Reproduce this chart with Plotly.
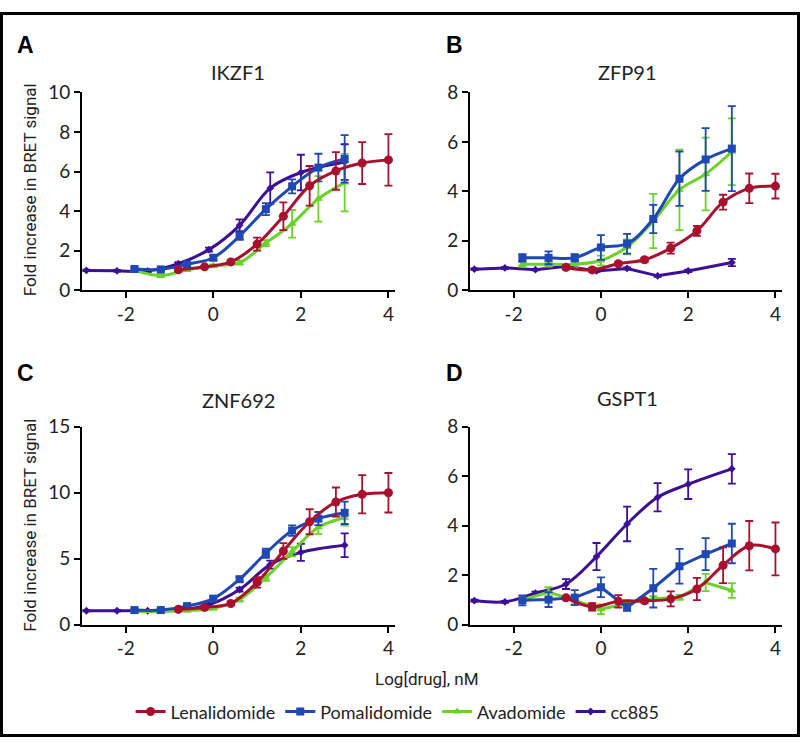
import plotly.graph_objects as go

# ---------------- data ----------------
drugs = ["Lenalidomide", "Pomalidomide", "Avadomide", "cc885"]
colors = {"Lenalidomide": "#A8102E", "Pomalidomide": "#1F48B4",
          "Avadomide": "#6AD22B", "cc885": "#3C1096"}
symbols = {"Lenalidomide": "circle", "Pomalidomide": "square",
           "Avadomide": "triangle-up", "cc885": "diamond"}
msize = {"Lenalidomide": 9, "Pomalidomide": 8, "Avadomide": 8, "cc885": 6}

x_len = [-0.8, -0.2, 0.4, 1.0, 1.6, 2.2, 2.8, 3.4, 4.0]
x_pom = [-1.8, -1.2, -0.6, 0.0, 0.6, 1.2, 1.8, 2.4, 3.0]
x_ava = [-1.8, -1.2, -0.6, 0.0, 0.6, 1.2, 1.8, 2.4, 3.0]
x_cc = [-2.9, -2.2, -1.5, -0.8, -0.1, 0.6, 1.3, 2.0, 3.0]

panel_titles = ["IKZF1", "ZFP91", "ZNF692", "GSPT1"]
panel_letters = ["A", "B", "C", "D"]
y_ranges = [[0, 10], [0, 8], [0, 15], [0, 8]]
y_ticks = [[0, 2, 4, 6, 8, 10], [0, 2, 4, 6, 8], [0, 5, 10, 15], [0, 2, 4, 6, 8]]
x_ticks = [-2, 0, 2, 4]
x_ticktext = ["-2", "0", "2", "4"]

# IKZF1
ikzf1_len = [1.03, 1.18, 1.43, 2.33, 3.74, 5.28, 6.03, 6.43, 6.59]
ikzf1_len_err = [0.05, 0.05, 0.08, 0.33, 0.7, 1.0, 0.95, 1.06, 1.3]
ikzf1_pom = [1.07, 1.05, 1.31, 1.64, 2.74, 4.1, 5.25, 6.2, 6.64]
ikzf1_pom_err = [0.08, 0.06, 0.1, 0.12, 0.2, 0.3, 0.35, 0.7, 1.2]
ikzf1_ava = [1.0, 0.74, 1.03, 1.23, 1.39, 2.38, 3.36, 4.62, 5.44]
ikzf1_ava_err = [0.05, 0.08, 0.06, 0.08, 0.1, 0.15, 0.7, 1.15, 1.45]
ikzf1_cc = [1.0, 0.98, 0.97, 1.34, 2.05, 3.28, 5.16, 5.95, 6.48]
ikzf1_cc_err = [0.04, 0.04, 0.05, 0.08, 0.1, 0.3, 0.8, 0.9, 0.9]

# ZFP91
zfp91_len = [0.92, 0.82, 1.07, 1.23, 1.7, 2.4, 3.56, 4.12, 4.21]
zfp91_len_err = [0.08, 0.08, 0.06, 0.08, 0.22, 0.2, 0.3, 0.6, 0.5]
zfp91_pom = [1.31, 1.31, 1.31, 1.73, 1.88, 2.88, 4.51, 5.29, 5.73]
zfp91_pom_err = [0.15, 0.26, 0.15, 0.5, 0.4, 0.57, 1.1, 1.27, 1.72]
zfp91_ava = [1.05, 1.05, 1.05, 1.2, 1.75, 2.8, 4.06, 4.7, 5.6]
zfp91_ava_err = [0.1, 0.1, 0.15, 0.2, 0.3, 1.1, 1.63, 1.47, 1.35]
zfp91_cc = [0.85, 0.9, 0.83, 0.97, 0.78, 0.88, 0.58, 0.78, 1.12]
zfp91_cc_err = [0.03, 0.03, 0.03, 0.04, 0.04, 0.04, 0.04, 0.05, 0.15]

# ZNF692
znf692_len = [1.16, 1.3, 1.6, 3.2, 5.58, 7.8, 9.3, 9.88, 10.0]
znf692_len_err = [0.08, 0.1, 0.12, 0.4, 0.6, 0.95, 1.1, 1.45, 1.5]
znf692_pom = [1.1, 1.1, 1.4, 1.97, 3.44, 5.41, 7.13, 8.04, 8.48]
znf692_pom_err = [0.08, 0.08, 0.1, 0.12, 0.2, 0.35, 0.4, 0.5, 0.85]
znf692_ava = [1.0, 1.0, 1.06, 1.23, 1.9, 3.56, 5.53, 7.38, 8.1]
znf692_ava_err = [0.06, 0.06, 0.08, 0.1, 0.15, 0.25, 0.35, 0.5, 0.6]
znf692_cc = [1.05, 1.05, 1.05, 1.1, 1.5, 2.66, 4.55, 5.48, 6.02]
znf692_cc_err = [0.04, 0.04, 0.04, 0.06, 0.1, 0.15, 0.3, 0.65, 0.9]

# GSPT1
gspt1_len = [1.08, 0.72, 0.94, 0.96, 1.04, 1.44, 2.4, 3.19, 3.06]
gspt1_len_err = [0.08, 0.15, 0.25, 0.08, 0.3, 0.45, 0.72, 1.0, 1.07]
gspt1_pom = [0.98, 1.01, 1.09, 1.51, 0.7, 1.47, 2.36, 2.85, 3.28]
gspt1_pom_err = [0.2, 0.3, 0.3, 0.4, 0.15, 0.78, 0.7, 0.65, 0.8]
gspt1_ava = [1.0, 1.31, 0.98, 0.62, 0.85, 1.05, 1.1, 1.7, 1.38]
gspt1_ava_err = [0.1, 0.2, 0.15, 0.2, 0.15, 0.1, 0.1, 0.35, 0.3]
gspt1_cc = [0.97, 0.92, 1.27, 1.64, 2.75, 4.07, 5.15, 5.68, 6.3]
gspt1_cc_err = [0.04, 0.04, 0.06, 0.2, 0.55, 0.7, 0.57, 0.6, 0.6]

panels = [
    {"Lenalidomide": (x_len, ikzf1_len, ikzf1_len_err, "spline"),
     "Pomalidomide": (x_pom, ikzf1_pom, ikzf1_pom_err, "spline"),
     "Avadomide": (x_ava, ikzf1_ava, ikzf1_ava_err, "spline"),
     "cc885": (x_cc, ikzf1_cc, ikzf1_cc_err, "spline")},
    {"Lenalidomide": (x_len, zfp91_len, zfp91_len_err, "spline"),
     "Pomalidomide": (x_pom, zfp91_pom, zfp91_pom_err, "spline"),
     "Avadomide": (x_ava, zfp91_ava, zfp91_ava_err, "spline"),
     "cc885": (x_cc, zfp91_cc, zfp91_cc_err, "linear")},
    {"Lenalidomide": (x_len, znf692_len, znf692_len_err, "spline"),
     "Pomalidomide": (x_pom, znf692_pom, znf692_pom_err, "spline"),
     "Avadomide": (x_ava, znf692_ava, znf692_ava_err, "spline"),
     "cc885": (x_cc, znf692_cc, znf692_cc_err, "spline")},
    {"Lenalidomide": (x_len, gspt1_len, gspt1_len_err, "spline"),
     "Pomalidomide": (x_pom, gspt1_pom, gspt1_pom_err, "linear"),
     "Avadomide": (x_ava, gspt1_ava, gspt1_ava_err, "linear"),
     "cc885": (x_cc, gspt1_cc, gspt1_cc_err, "spline")},
]

# ---------------- layout geometry ----------------
W, H = 800, 748
x_doms = [(82, 395), (470, 782), (82, 395), (470, 782)]
y_doms = [(83, 287), (83, 287), (428, 632), (428, 632)]

fig = go.Figure()
draw_order = ["cc885", "Avadomide", "Pomalidomide", "Lenalidomide"]
legend_rank = {"Lenalidomide": 1, "Pomalidomide": 2, "Avadomide": 3, "cc885": 4}

for i, pdata in enumerate(panels):
    ax = "" if i == 0 else str(i + 1)
    for d in draw_order:
        xs, ys, es, shape = pdata[d]
        fig.add_trace(go.Scatter(
            x=xs, y=ys, name=d, mode="lines+markers",
            xaxis="x" + ax, yaxis="y" + ax,
            line=dict(color=colors[d], width=3, shape=shape, smoothing=1.0),
            marker=dict(color=colors[d], symbol=symbols[d], size=msize[d]),
            error_y=dict(type="data", array=es, color=colors[d], thickness=1.8, width=4),
            showlegend=(i == 0), legendrank=legend_rank[d], cliponaxis=False,
        ))

tickfont = dict(family="Lato, Open Sans, sans-serif", size=19, color="#222")
layout = dict(
    width=W, height=H, margin=dict(l=0, r=0, t=0, b=0),
    plot_bgcolor="white", paper_bgcolor="white", showlegend=True,
    legend=dict(orientation="h", x=0.497, xanchor="center", y=1 - 722 / H, yanchor="middle",
                font=dict(family="Lato, Open Sans, sans-serif", size=18, color="#222"),
                itemwidth=30, tracegroupgap=0, bgcolor="rgba(0,0,0,0)"),
)
for i in range(4):
    ax = "" if i == 0 else str(i + 1)
    x0, x1 = x_doms[i]
    y0, y1 = y_doms[i]
    layout["xaxis" + ax] = dict(
        domain=[x0 / W, x1 / W], range=[-3, 4.15], tickvals=x_ticks, ticktext=x_ticktext,
        showline=True, linecolor="black", linewidth=2, ticks="outside",
        ticklen=6, tickwidth=2, tickcolor="black", showgrid=False, zeroline=False,
        tickfont=tickfont, anchor="y" + ax, fixedrange=True)
    layout["yaxis" + ax] = dict(
        domain=[1 - y1 / H, 1 - y0 / H], range=y_ranges[i], tickvals=y_ticks[i],
        showline=True, linecolor="black", linewidth=2, ticks="outside",
        ticklen=6, tickwidth=2, tickcolor="black", showgrid=False, zeroline=False,
        tickfont=tickfont, anchor="x" + ax, fixedrange=True)
fig.update_layout(**layout)

annotations = []
title_pos = [(238, 62), (627, 62), (238, 400), (627, 398)]
letter_pos = [(25, 34), (454, 34), (25, 372), (454, 372)]
for i in range(4):
    tx, ty = title_pos[i]
    annotations.append(dict(text=panel_titles[i], x=tx / W, y=1 - ty / H, xref="paper", yref="paper",
                            showarrow=False, xanchor="center", yanchor="middle",
                            font=dict(family="Lato, Open Sans, sans-serif", size=20, color="#222")))
    lx, ly = letter_pos[i]
    annotations.append(dict(text="<b>" + panel_letters[i] + "</b>", x=lx / W, y=1 - ly / H,
                            xref="paper", yref="paper", showarrow=False,
                            xanchor="center", yanchor="middle",
                            font=dict(family="Liberation Sans, Arial, sans-serif", size=23, color="black")))
narrow = "Roboto, Liberation Sans Narrow, sans-serif"
for yc in [184, 530]:
    annotations.append(dict(text="Fold increase in BRET signal", x=30 / W, y=1 - yc / H,
                            xref="paper", yref="paper", showarrow=False, textangle=-90,
                            xanchor="center", yanchor="middle",
                            font=dict(family=narrow, size=17, color="#222")))
annotations.append(dict(text="Log[drug], nM", x=427 / W, y=1 - 688 / H, xref="paper", yref="paper",
                        showarrow=False, xanchor="center", yanchor="middle",
                        font=dict(family=narrow, size=17, color="#222")))
fig.update_layout(annotations=annotations)

fig.add_shape(type="rect", xref="paper", yref="paper",
              x0=1.5 / W, x1=1 - 1.5 / W, y0=1.5 / H, y1=1 - 1.5 / H,
              line=dict(color="black", width=3), fillcolor="rgba(0,0,0,0)", layer="above")

fig.write_html("out.html", config={"displayModeBar": False},
               post_script="document.body.style.margin='0px';document.body.style.overflow='hidden';")
